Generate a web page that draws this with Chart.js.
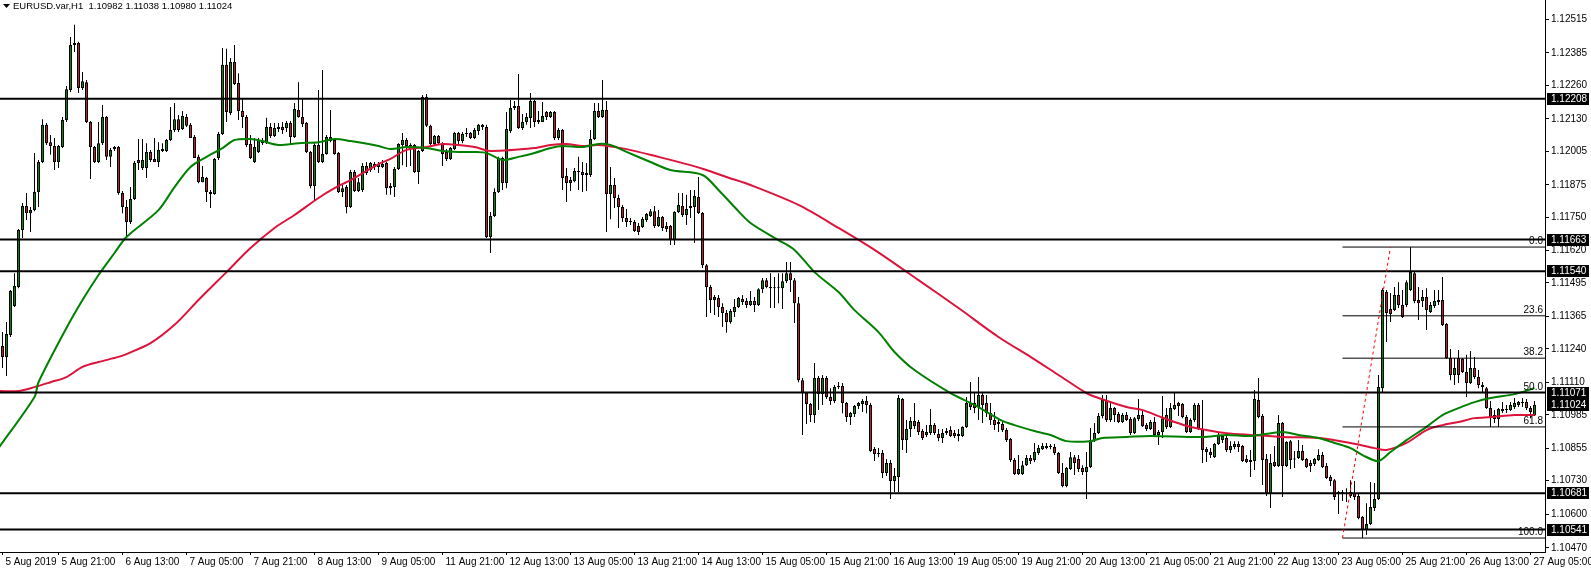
<!DOCTYPE html>
<html>
<head>
<meta charset="utf-8">
<title>EURUSD.var,H1</title>
<script src="https://cdn.jsdelivr.net/npm/chart.js@4.4.1/dist/chart.umd.min.js"></script>
<style>
    html, body { margin: 0; padding: 0; background: #fff; }
    #wrap { width: 1591px; height: 569px; position: relative; }
</style>
</head>
<body>
<div id="wrap"><canvas id="chart"></canvas></div>
<script>
// ================= DATA (H1 candles, left to right) =================
const opens = [
    1.11251,1.11209,1.11294,1.11406,1.11479,1.11700,1.11793,1.11765,1.11777,1.11847,
    1.11963,1.12107,1.12040,1.12025,1.11963,1.12021,1.12126,1.12242,1.12416,1.12424,
    1.12249,1.12272,1.12118,1.12021,1.11963,1.12036,1.12137,1.11983,1.12013,1.12021,
    1.11843,1.11789,1.11731,1.11820,1.11971,1.11940,1.11940,1.12002,1.11975,1.11963,
    1.12006,1.12006,1.12048,1.12087,1.12129,1.12091,1.12137,1.12107,1.12060,1.11983,
    1.11885,1.11901,1.11847,1.11839,1.11979,1.12071,1.12339,1.12153,1.12350,1.12269,
    1.12160,1.12137,1.12033,1.11963,1.12002,1.12044,1.12036,1.12099,1.12064,1.12091,
    1.12099,1.12095,1.12114,1.12060,1.12164,1.12137,1.12114,1.12002,1.11870,1.12029,
    1.11963,1.11994,1.12060,1.12048,1.11998,1.11847,1.11866,1.11789,1.11924,1.11851,
    1.11855,1.11948,1.11932,1.11955,1.11944,1.11944,1.11959,1.11870,1.11866,1.11936,
    1.12029,1.12048,1.12025,1.12029,1.11924,1.12006,1.12215,1.12103,1.12033,1.12064,
    1.12036,1.12002,1.11975,1.12013,1.12075,1.12044,1.12071,1.12075,1.12056,1.12083,
    1.12107,1.12099,1.11673,1.11754,1.11847,1.11979,1.11882,1.12083,1.12172,1.12180,
    1.12095,1.12118,1.12133,1.12199,1.12126,1.12118,1.12157,1.12137,1.12157,1.12056,
    1.12087,1.11909,1.11882,1.11889,1.11928,1.11924,1.11921,1.11913,1.12052,1.12160,
    1.12137,1.12164,1.11839,1.11874,1.11824,1.11789,1.11746,1.11731,1.11731,1.11715,
    1.11712,1.11739,1.11754,1.11773,1.11715,1.11750,1.11715,1.11715,1.11661,1.11770,
    1.11793,1.11758,1.11785,1.11789,1.11828,1.11766,1.11564,1.11479,1.11429,1.11437,
    1.11402,1.11379,1.11344,1.11383,1.11402,1.11433,1.11425,1.11410,1.11425,1.11410,
    1.11471,1.11506,1.11479,1.11475,1.11477,1.11475,1.11502,1.11533,1.11506,1.11417,
    1.11119,1.11069,1.11027,1.10984,1.11127,1.11065,1.11127,1.11054,1.11038,1.11092,
    1.11096,1.11031,1.10976,1.10988,1.11019,1.11027,1.11038,1.11023,1.10853,1.10837,
    1.10837,1.10760,1.10798,1.10729,1.10744,1.11046,1.10887,1.10930,1.10961,1.10957,
    1.10922,1.10907,1.10914,1.10945,1.10911,1.10895,1.10914,1.10926,1.10914,1.10903,
    1.10903,1.10938,1.11031,1.11031,1.11015,1.11062,1.11031,1.10992,1.10965,1.10949,
    1.10949,1.10926,1.10891,1.10810,1.10756,1.10756,1.10790,1.10818,1.10810,1.10837,
    1.10852,1.10856,1.10860,1.10860,1.10837,1.10760,1.10709,1.10775,1.10821,1.10814,
    1.10779,1.10764,1.10783,1.10887,1.10914,1.10980,1.11042,1.10965,1.11011,1.10988,
    1.10957,1.10984,1.10969,1.10914,1.10969,1.10984,1.10945,1.10930,1.10957,1.10907,
    1.10918,1.10984,1.10938,1.11007,1.11031,1.11027,1.10976,1.10918,1.10965,1.11023,
    1.10930,1.10853,1.10841,1.10821,1.10872,1.10887,1.10895,1.10849,1.10860,1.10872,
    1.10864,1.10814,1.10810,1.10806,1.11042,1.10980,1.10814,1.10678,1.10802,1.10787,
    1.10953,1.10787,1.10883,1.10814,1.10818,1.10845,1.10814,1.10798,1.10795,1.10810,
    1.10829,1.10787,1.10744,1.10732,1.10678,1.10686,1.10678,1.10686,1.10682,1.10671,
    1.10589,1.10539,1.10562,1.10624,1.10659,1.11088,1.11460,1.11394,1.11390,1.11448,
    1.11410,1.11410,1.11468,1.11533,1.11429,1.11425,1.11441,1.11383,1.11406,1.11421,
    1.11429,1.11336,1.11205,1.11139,1.11205,1.11202,1.11151,1.11108,1.11166,1.11131,
    1.11100,1.11088,1.11011,1.10969,1.10969,1.11000,1.11007,1.11003,1.11015,1.11023,
    1.11034,1.11034,1.11011,1.10982
];
const highs = [
    1.11305,1.11344,1.11468,1.11533,1.11704,1.11804,1.11843,1.11789,1.11998,1.11971,
    1.12129,1.12114,1.12068,1.12056,1.12029,1.12137,1.12257,1.12447,1.12494,1.12428,
    1.12311,1.12280,1.12122,1.12025,1.12118,1.12184,1.12141,1.12017,1.12025,1.12025,
    1.11851,1.11816,1.11866,1.11967,1.12052,1.12052,1.12036,1.12010,1.12056,1.12040,
    1.12036,1.12052,1.12176,1.12191,1.12145,1.12160,1.12149,1.12114,1.12068,1.11991,
    1.11948,1.11905,1.11855,1.11979,1.12079,1.12404,1.12401,1.12366,1.12416,1.12307,
    1.12211,1.12145,1.12068,1.12056,1.12056,1.12056,1.12134,1.12114,1.12114,1.12114,
    1.12118,1.12122,1.12122,1.12191,1.12272,1.12207,1.12118,1.12006,1.12036,1.12242,
    1.12319,1.12068,1.12164,1.12052,1.12002,1.11874,1.11874,1.11932,1.11932,1.11901,
    1.11959,1.11963,1.11963,1.11963,1.11963,1.11971,1.11963,1.11882,1.11944,1.12036,
    1.12075,1.12056,1.12036,1.12033,1.12010,1.12222,1.12226,1.12107,1.12068,1.12068,
    1.12040,1.12013,1.12021,1.12079,1.12079,1.12079,1.12095,1.12079,1.12095,1.12110,
    1.12110,1.12107,1.11770,1.11862,1.11983,1.11983,1.12157,1.12203,1.12199,1.12304,
    1.12149,1.12153,1.12230,1.12203,1.12160,1.12195,1.12160,1.12160,1.12160,1.12095,
    1.12091,1.11940,1.11905,1.11940,1.11983,1.11963,1.11959,1.12087,1.12191,1.12191,
    1.12280,1.12199,1.11944,1.11901,1.11836,1.11797,1.11781,1.11746,1.11739,1.11727,
    1.11750,1.11766,1.11781,1.11793,1.11777,1.11754,1.11731,1.11719,1.11773,1.11843,
    1.11843,1.11836,1.11855,1.11855,1.11905,1.11770,1.11568,1.11487,1.11448,1.11448,
    1.11417,1.11390,1.11394,1.11433,1.11441,1.11448,1.11437,1.11464,1.11441,1.11475,
    1.11514,1.11514,1.11533,1.11518,1.11533,1.11533,1.11576,1.11576,1.11514,1.11441,
    1.11127,1.11073,1.11031,1.11185,1.11135,1.11139,1.11135,1.11088,1.11100,1.11112,
    1.11108,1.11034,1.10996,1.11023,1.11034,1.11046,1.11058,1.11031,1.10860,1.10856,
    1.10849,1.10814,1.10810,1.10779,1.11062,1.11050,1.10965,1.10976,1.11031,1.10965,
    1.10930,1.10945,1.11007,1.10953,1.10930,1.10930,1.10934,1.10941,1.10926,1.10930,
    1.10941,1.11054,1.11112,1.11069,1.11131,1.11073,1.11062,1.11031,1.10996,1.10972,
    1.10957,1.10934,1.10895,1.10818,1.10829,1.10806,1.10829,1.10829,1.10876,1.10868,
    1.10876,1.10876,1.10872,1.10872,1.10841,1.10798,1.10783,1.10841,1.10829,1.10829,
    1.10790,1.10841,1.10934,1.10953,1.10992,1.11062,1.11062,1.11031,1.11015,1.10996,
    1.10992,1.10996,1.10976,1.10976,1.11046,1.11003,1.10953,1.10965,1.10976,1.10926,
    1.11058,1.11011,1.11031,1.11069,1.11035,1.11031,1.10984,1.10972,1.11031,1.11031,
    1.11042,1.10860,1.10856,1.10876,1.10914,1.10907,1.10903,1.10883,1.10883,1.10883,
    1.10868,1.10829,1.10849,1.11081,1.11127,1.10988,1.10833,1.10833,1.10864,1.10984,
    1.10957,1.10883,1.10887,1.10845,1.10887,1.10868,1.10818,1.10810,1.10818,1.10852,
    1.10841,1.10798,1.10752,1.10736,1.10690,1.10694,1.10701,1.10732,1.10729,1.10678,
    1.10593,1.10643,1.10725,1.10721,1.11139,1.11475,1.11468,1.11456,1.11479,1.11498,
    1.11468,1.11506,1.11634,1.11537,1.11479,1.11468,1.11475,1.11421,1.11468,1.11468,
    1.11518,1.11340,1.11240,1.11205,1.11236,1.11205,1.11217,1.11232,1.11209,1.11158,
    1.11112,1.11092,1.11038,1.11003,1.11011,1.11034,1.11023,1.11034,1.11050,1.11038,
    1.11050,1.11046,1.11019,1.11038
];
const lows = [
    1.11166,1.11135,1.11286,1.11402,1.11475,1.11669,1.11739,1.11692,1.11773,1.11789,
    1.11959,1.12029,1.11991,1.11932,1.11940,1.12017,1.12118,1.12234,1.12389,1.12230,
    1.12242,1.12114,1.11897,1.11959,1.11959,1.12029,1.11971,1.11944,1.12006,1.11836,
    1.11765,1.11677,1.11723,1.11816,1.11932,1.11932,1.11901,1.11963,1.11963,1.11944,
    1.12002,1.12002,1.12044,1.12079,1.12079,1.12087,1.12099,1.12056,1.11979,1.11881,
    1.11885,1.11808,1.11785,1.11836,1.11971,1.12068,1.12118,1.12145,1.12261,1.12126,
    1.12095,1.12021,1.11975,1.11959,1.11998,1.12029,1.12033,1.12056,1.12060,1.12079,
    1.12071,1.12079,1.12029,1.12056,1.12134,1.12099,1.11998,1.11862,1.11816,1.11959,
    1.11959,1.11991,1.12040,1.11991,1.11843,1.11828,1.11765,1.11785,1.11847,1.11847,
    1.11847,1.11913,1.11924,1.11932,1.11921,1.11940,1.11836,1.11836,1.11828,1.11932,
    1.11951,1.11944,1.11948,1.11921,1.11878,1.12002,1.12099,1.12029,1.12029,1.12029,
    1.11948,1.11967,1.11971,1.12010,1.12029,1.12036,1.12060,1.12052,1.12052,1.12068,
    1.12087,1.11669,1.11611,1.11750,1.11843,1.11855,1.11862,1.12075,1.12164,1.12091,
    1.12087,1.12107,1.12095,1.12099,1.12110,1.12118,1.12126,1.12133,1.12048,1.12048,
    1.11855,1.11808,1.11851,1.11885,1.11855,1.11847,1.11851,1.11905,1.12048,1.12133,
    1.12133,1.11692,1.11742,1.11785,1.11708,1.11731,1.11712,1.11719,1.11692,1.11681,
    1.11708,1.11731,1.11750,1.11708,1.11712,1.11696,1.11692,1.11642,1.11642,1.11766,
    1.11750,1.11719,1.11746,1.11650,1.11762,1.11553,1.11363,1.11379,1.11371,1.11363,
    1.11325,1.11302,1.11337,1.11363,1.11398,1.11410,1.11398,1.11406,1.11383,1.11406,
    1.11456,1.11475,1.11398,1.11398,1.11417,1.11394,1.11495,1.11460,1.11340,1.11111,
    1.10907,1.10949,1.10957,1.10953,1.11003,1.11023,1.11046,1.11023,1.11031,1.11085,
    1.10991,1.10957,1.10945,1.10976,1.11007,1.10996,1.10991,1.10841,1.10806,1.10821,
    1.10740,1.10748,1.10659,1.10686,1.10686,1.10849,1.10837,1.10899,1.10930,1.10907,
    1.10887,1.10899,1.10907,1.10907,1.10883,1.10876,1.10907,1.10899,1.10895,1.10883,
    1.10899,1.10934,1.11003,1.10991,1.10965,1.10953,1.10976,1.10945,1.10926,1.10918,
    1.10918,1.10880,1.10802,1.10752,1.10752,1.10752,1.10787,1.10795,1.10802,1.10829,
    1.10849,1.10852,1.10852,1.10829,1.10756,1.10705,1.10705,1.10771,1.10752,1.10764,
    1.10752,1.10659,1.10779,1.10880,1.10911,1.10972,1.10957,1.10957,1.10957,1.10953,
    1.10953,1.10961,1.10907,1.10911,1.10961,1.10938,1.10922,1.10926,1.10899,1.10868,
    1.10895,1.10930,1.10934,1.11003,1.10980,1.10972,1.10914,1.10914,1.10957,1.10926,
    1.10798,1.10802,1.10818,1.10818,1.10868,1.10876,1.10841,1.10837,1.10852,1.10841,
    1.10802,1.10798,1.10744,1.10771,1.10972,1.10713,1.10671,1.10624,1.10783,1.10783,
    1.10667,1.10783,1.10775,1.10779,1.10814,1.10806,1.10779,1.10764,1.10787,1.10806,
    1.10779,1.10736,1.10709,1.10655,1.10601,1.10651,1.10647,1.10663,1.10655,1.10581,
    1.10508,1.10520,1.10558,1.10613,1.10655,1.11069,1.11267,1.11344,1.11387,1.11398,
    1.11359,1.11402,1.11464,1.11417,1.11352,1.11402,1.11313,1.11379,1.11398,1.11410,
    1.11329,1.11202,1.11119,1.11100,1.11108,1.11147,1.11054,1.11104,1.11123,1.11088,
    1.11069,1.11007,1.10938,1.10953,1.10938,1.10992,1.10992,1.11000,1.11007,1.11015,
    1.11015,1.11003,1.10972,1.10980
];
const closes = [
    1.11209,1.11298,1.11464,1.11483,1.11700,1.11793,1.11765,1.11777,1.11847,1.11963,
    1.12107,1.12036,1.12025,1.11963,1.12025,1.12126,1.12245,1.12416,1.12424,1.12249,
    1.12276,1.12118,1.12021,1.11963,1.12036,1.12137,1.11983,1.12010,1.12021,1.11843,
    1.11789,1.11731,1.11820,1.11959,1.11959,1.11971,1.12002,1.11971,1.11963,1.12010,
    1.12013,1.12048,1.12087,1.12129,1.12087,1.12141,1.12103,1.12056,1.11979,1.11885,
    1.11905,1.11847,1.11839,1.11975,1.12071,1.12339,1.12157,1.12350,1.12265,1.12160,
    1.12137,1.12029,1.11979,1.12021,1.12048,1.12036,1.12099,1.12064,1.12095,1.12099,
    1.12087,1.12114,1.12060,1.12168,1.12137,1.12110,1.12002,1.11870,1.12029,1.11963,
    1.11994,1.12060,1.12044,1.11994,1.11847,1.11862,1.11789,1.11924,1.11851,1.11885,
    1.11948,1.11921,1.11959,1.11944,1.11955,1.11955,1.11862,1.11862,1.11936,1.12033,
    1.12048,1.12025,1.12029,1.11924,1.12006,1.12215,1.12103,1.12033,1.12064,1.12036,
    1.11994,1.11975,1.12017,1.12075,1.12044,1.12071,1.12075,1.12056,1.12087,1.12107,
    1.12099,1.11673,1.11754,1.11847,1.11979,1.11882,1.12091,1.12172,1.12180,1.12095,
    1.12118,1.12137,1.12199,1.12118,1.12118,1.12141,1.12137,1.12157,1.12056,1.12087,
    1.11901,1.11882,1.11893,1.11928,1.11924,1.11913,1.11913,1.12052,1.12160,1.12137,
    1.12164,1.11839,1.11874,1.11824,1.11789,1.11746,1.11731,1.11735,1.11696,1.11692,
    1.11743,1.11762,1.11773,1.11715,1.11750,1.11708,1.11704,1.11661,1.11770,1.11797,
    1.11758,1.11781,1.11793,1.11832,1.11766,1.11564,1.11479,1.11429,1.11441,1.11402,
    1.11379,1.11344,1.11387,1.11402,1.11437,1.11421,1.11410,1.11425,1.11410,1.11471,
    1.11506,1.11479,1.11475,1.11477,1.11479,1.11502,1.11533,1.11506,1.11417,1.11119,
    1.11069,1.11027,1.10984,1.11127,1.11065,1.11127,1.11054,1.11038,1.11092,1.11096,
    1.11031,1.10976,1.10992,1.11019,1.11031,1.11038,1.11023,1.10845,1.10833,1.10833,
    1.10760,1.10798,1.10729,1.10748,1.11050,1.10887,1.10930,1.10961,1.10941,1.10918,
    1.10895,1.10918,1.10945,1.10914,1.10895,1.10914,1.10922,1.10903,1.10903,1.10911,
    1.10938,1.11031,1.11015,1.11011,1.11062,1.11023,1.10992,1.10965,1.10945,1.10957,
    1.10926,1.10887,1.10810,1.10756,1.10775,1.10790,1.10818,1.10806,1.10841,1.10856,
    1.10864,1.10864,1.10864,1.10837,1.10760,1.10709,1.10779,1.10821,1.10798,1.10775,
    1.10764,1.10783,1.10887,1.10914,1.10980,1.11042,1.10965,1.11011,1.10984,1.10957,
    1.10984,1.10965,1.10914,1.10972,1.10984,1.10941,1.10930,1.10957,1.10907,1.10918,
    1.10972,1.10938,1.11011,1.11023,1.11019,1.10976,1.10918,1.10965,1.11023,1.10930,
    1.10849,1.10841,1.10829,1.10872,1.10907,1.10903,1.10849,1.10864,1.10872,1.10860,
    1.10806,1.10802,1.10802,1.11046,1.10976,1.10810,1.10678,1.10798,1.10787,1.10953,
    1.10787,1.10880,1.10810,1.10812,1.10845,1.10810,1.10783,1.10787,1.10814,1.10829,
    1.10783,1.10740,1.10729,1.10667,1.10686,1.10678,1.10682,1.10671,1.10667,1.10585,
    1.10539,1.10562,1.10628,1.10659,1.11092,1.11468,1.11379,1.11375,1.11448,1.11410,
    1.11363,1.11498,1.11537,1.11425,1.11417,1.11441,1.11390,1.11410,1.11425,1.11429,
    1.11332,1.11205,1.11139,1.11166,1.11139,1.11151,1.11108,1.11166,1.11131,1.11100,
    1.11092,1.11011,1.10972,1.10984,1.11007,1.11007,1.11003,1.11023,1.11031,1.11034,
    1.11031,1.11011,1.10996,1.11024
];

// moving averages, read at sample bars
const maGreenBars = [-1,8,9,16,20,24,28,31,39,43,47,51,55,58,62,65,69,74,79,83,87,94,97,101,106,110,114,118,121,125,129,133,137,140,145,149,152,156,162,167,175,179,183,187,194,198,203,209,213,219,223,228,237,243,250,253,258,262,266,272,275,281,287,300,306,312,320,324,329,333,337,340,344,347,351,356,360,364,368,372,378,383];
const maGreenValues = [1.10856,1.11054,1.11111,1.11321,1.11429,1.11526,1.11611,1.11673,1.11777,1.11866,1.11944,1.11983,1.12017,1.12048,1.12052,1.12044,1.12029,1.12036,1.12040,1.12052,1.12044,1.12025,1.12013,1.12021,1.12017,1.12006,1.12002,1.12002,1.11998,1.11971,1.11983,1.11998,1.12017,1.12025,1.12021,1.12033,1.12029,1.12002,1.11963,1.11932,1.11913,1.11855,1.11789,1.11727,1.11661,1.11623,1.11537,1.11460,1.11390,1.11305,1.11228,1.11158,1.11069,1.11023,1.10961,1.10945,1.10922,1.10907,1.10883,1.10883,1.10895,1.10899,1.10903,1.10899,1.10907,1.10903,1.10918,1.10907,1.10895,1.10876,1.10856,1.10829,1.10806,1.10841,1.10887,1.10938,1.10984,1.11011,1.11034,1.11050,1.11065,1.11088];
const maRedBars = [-1,4,8,12,16,20,24,29,31,37,43,49,56,62,68,73,79,83,87,94,97,101,106,110,114,118,122,133,137,141,145,149,156,164,172,176,181,187,199,209,218,229,239,249,257,264,271,274,281,285,289,293,297,301,306,312,320,329,337,343,346,351,356,360,364,368,372,378,383];
const maRedValues = [1.11077,1.11077,1.11092,1.11111,1.11131,1.11170,1.11189,1.11209,1.11220,1.11262,1.11333,1.11429,1.11537,1.11630,1.11708,1.11758,1.11824,1.11862,1.11893,1.11955,1.11975,1.12010,1.12021,1.12033,1.12029,1.12021,1.12006,1.12017,1.12029,1.12033,1.12025,1.12029,1.12013,1.11983,1.11951,1.11932,1.11905,1.11874,1.11797,1.11708,1.11623,1.11506,1.11398,1.11286,1.11209,1.11139,1.11069,1.11050,1.11015,1.11003,1.10980,1.10957,1.10938,1.10926,1.10914,1.10907,1.10899,1.10895,1.10876,1.10856,1.10849,1.10876,1.10926,1.10945,1.10957,1.10972,1.10976,1.10984,1.10984];

// horizontal levels and fibonacci
const levelValues = [1.12208, 1.11663, 1.11540, 1.11071, 1.10681, 1.10541];
const fibLabels = ['0.0', '23.6', '38.2', '50.0', '61.8', '100.0'];
const fibValues = [1.11634, 1.11368, 1.11204, 1.11071, 1.10938, 1.10508];
const fibStartBar = 335;
const fibEndBar = 347;

// axis ticks
const priceTicks = [1.12515, 1.12385, 1.12260, 1.12130, 1.12005, 1.11875, 1.11750, 1.11620, 1.11495,
                    1.11365, 1.11240, 1.11110, 1.10985, 1.10855, 1.10730, 1.10600, 1.10470];
const timeTickBars = [0, 14, 30, 46, 62, 78, 94, 110, 126, 142, 158, 174, 190, 206, 222, 238, 254, 270, 286, 302, 318, 334, 350, 366, 382];
const timeTickLabels = ['5 Aug 2019', '5 Aug 21:00', '6 Aug 13:00', '7 Aug 05:00', '7 Aug 21:00', '8 Aug 13:00',
    '9 Aug 05:00', '11 Aug 21:00', '12 Aug 13:00', '13 Aug 05:00', '13 Aug 21:00', '14 Aug 13:00',
    '15 Aug 05:00', '15 Aug 21:00', '16 Aug 13:00', '19 Aug 05:00', '19 Aug 21:00', '20 Aug 13:00',
    '21 Aug 05:00', '21 Aug 21:00', '22 Aug 13:00', '23 Aug 05:00', '25 Aug 21:00', '26 Aug 13:00', '27 Aug 05:00'];

const titleText = 'EURUSD.var,H1  1.10982 1.11038 1.10980 1.11024';

// ================= STYLE =================
const FONT = '"Liberation Sans", Arial, sans-serif';
const BULL = '#008a00';
const BEAR = '#b8202a';
const X_MIN = -0.625, X_MAX = 385.625;   // 4px per bar
const Y_MIN = 1.10454, Y_MAX = 1.12590;
const PLOT_RIGHT_W = 46, AXIS_BOTTOM_H = 17;

function hLine(value, fromBar, width) {
    return {
        type: 'line',
        data: [{ x: fromBar, y: value }, { x: X_MAX + 5, y: value }],
        borderColor: '#000',
        borderWidth: width,
        pointRadius: 0,
        clip: 0,
        order: 1
    };
}

const datasets = [];

// wicks
datasets.push({
    type: 'bar',
    data: highs.map((h, i) => ({ x: i, y: [lows[i], h] })),
    backgroundColor: '#000',
    borderWidth: 0,
    barThickness: 1,
    grouped: false,
    inflateAmount: 0,
    order: 6
});

// bodies
datasets.push({
    type: 'bar',
    data: opens.map((o, i) => ({ x: i, y: [o, closes[i]] })),
    backgroundColor: ctx => closes[ctx.dataIndex] >= opens[ctx.dataIndex] ? BULL : BEAR,
    borderColor: '#000',
    borderWidth: 1,
    borderSkipped: false,
    barThickness: 3,
    minBarLength: 1,
    grouped: false,
    inflateAmount: 0,
    order: 5
});

// moving averages
datasets.push({
    type: 'line',
    data: maRedBars.map((b, i) => ({ x: b, y: maRedValues[i] })),
    borderColor: '#dc143c',
    borderWidth: 2,
    pointRadius: 0,
    tension: 0.3,
    clip: 0,
    order: 4
});
datasets.push({
    type: 'line',
    data: maGreenBars.map((b, i) => ({ x: b, y: maGreenValues[i] })),
    borderColor: '#008000',
    borderWidth: 2,
    pointRadius: 0,
    tension: 0.3,
    clip: 0,
    order: 3
});

// levels
levelValues.forEach(v => datasets.push(hLine(v, X_MIN - 5, 2)));
fibValues.forEach(v => datasets.push(hLine(v, fibStartBar, 1)));

// fibo trend line (dashed red)
datasets.push({
    type: 'line',
    data: [{ x: fibStartBar, y: fibValues[5] }, { x: fibEndBar, y: fibValues[0] }],
    borderColor: '#ff0000',
    borderWidth: 1,
    borderDash: [3, 3],
    pointRadius: 0,
    clip: 0,
    order: 0
});

// ================= OVERLAY TEXT =================
const overlay = {
    id: 'overlay',
    afterDraw(chart) {
        const { ctx, chartArea, scales: { y } } = chart;
        ctx.save();

        // fib level labels
        ctx.font = '10px ' + FONT;
        ctx.fillStyle = '#000';
        ctx.textAlign = 'right';
        ctx.textBaseline = 'bottom';
        fibValues.forEach((v, k) => {
            ctx.fillText(fibLabels[k], chartArea.right - 2, Math.round(y.getPixelForValue(v)) - 1);
        });

        // boxed prices on the right axis
        const boxed = levelValues.concat([closes[closes.length - 1]]);
        ctx.textAlign = 'left';
        ctx.textBaseline = 'middle';
        boxed.forEach(v => {
            const py = Math.round(y.getPixelForValue(v));
            ctx.fillStyle = '#000';
            ctx.fillRect(chartArea.right + 2, py - 6, chart.width - chartArea.right - 4, 12);
            ctx.fillStyle = '#fff';
            ctx.fillText(v.toFixed(5), chartArea.right + 6, py + 0.5);
        });

        // title
        ctx.fillStyle = '#000';
        ctx.beginPath();
        ctx.moveTo(3, 4);
        ctx.lineTo(10, 4);
        ctx.lineTo(6.5, 8);
        ctx.closePath();
        ctx.fill();
        ctx.font = '9.5px ' + FONT;
        ctx.fillText(titleText, 13, 6.5);

        ctx.restore();
    }
};

// ================= CHART =================
new Chart(document.getElementById('chart'), {
    type: 'bar',
    data: { datasets: datasets },
    options: {
        responsive: true,
        maintainAspectRatio: false,
        devicePixelRatio: 1,
        animation: false,
        events: [],
        layout: { padding: 0 },
        plugins: {
            legend: { display: false },
            tooltip: { enabled: false }
        },
        scales: {
            x: {
                type: 'linear',
                min: X_MIN,
                max: X_MAX,
                offset: false,
                afterBuildTicks: s => { s.ticks = timeTickBars.map(v => ({ value: v })); },
                afterFit: s => { s.height = AXIS_BOTTOM_H; s.paddingLeft = 0; s.paddingRight = 0; },
                ticks: {
                    callback: (v, i) => timeTickLabels[i],
                    align: 'start',
                    labelOffset: 3,
                    maxRotation: 0,
                    autoSkip: false,
                    padding: 1,
                    color: '#000',
                    font: { family: FONT, size: 10 }
                },
                grid: { drawOnChartArea: false, tickLength: 3, color: '#000', offset: false },
                border: { display: true, color: '#000', width: 1 }
            },
            y: {
                type: 'linear',
                position: 'right',
                min: Y_MIN,
                max: Y_MAX,
                afterBuildTicks: s => { s.ticks = priceTicks.map(v => ({ value: v })); },
                afterFit: s => { s.width = PLOT_RIGHT_W; s.paddingTop = 0; s.paddingBottom = 0; },
                ticks: {
                    callback: v => v.toFixed(5),
                    autoSkip: false,
                    padding: 2,
                    color: '#000',
                    font: { family: FONT, size: 10 }
                },
                grid: { drawOnChartArea: false, tickLength: 4, color: '#000' },
                border: { display: true, color: '#000', width: 1 }
            }
        }
    },
    plugins: [overlay]
});
</script>
</body>
</html>
